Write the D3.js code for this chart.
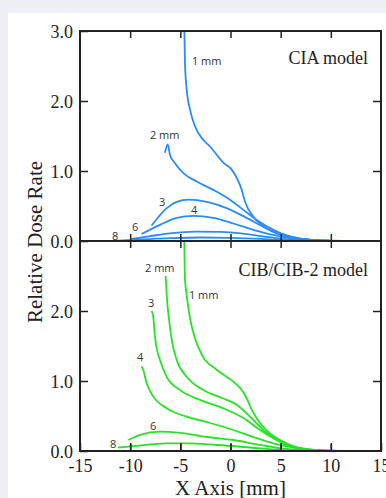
<!DOCTYPE html>
<html>
<head>
<meta charset="utf-8">
<script src="https://cdn.jsdelivr.net/npm/d3@7"></script>
<style>
  body { margin: 0; background: #eff0f6; }
  svg { display: block; }
</style>
</head>
<body>
<svg width="386" height="498"></svg>
<script>
const xTicks = [-15, -10, -5, 0, 5, 10, 15];
const yTicks = [0, 1, 2, 3];

const cia1 = [[-4.6,3.02],[-4.54,2.55],[-4.37,2.17],[-4.04,1.88],[-3.54,1.64],[-2.74,1.45],[-2.04,1.35],[-0.72,1.12],[0.12,1.02],[0.7,0.88],[1.12,0.73],[1.45,0.56],[2.27,0.35],[3.6,0.18],[5.1,0.086],[6.5,0.04],[8,0.014],[10,0.003],[11.5,0]];
const cia2 = [[-6.53,1.26],[-6.26,1.38],[-6.03,1.23],[-5.53,1.11],[-4.7,0.97],[-3.37,0.85],[-1.71,0.73],[-0.05,0.59],[1.28,0.445],[2.61,0.30],[4.27,0.16],[5.6,0.08],[7,0.035],[8.5,0.012],[10,0.003],[11.5,0]];
const cia3 = [[-7.86,0.22],[-6.36,0.47],[-5.36,0.56],[-4.2,0.59],[-2.37,0.56],[-0.38,0.47],[1.6,0.33],[3.6,0.18],[5.1,0.09],[6.5,0.04],[8,0.014],[10,0.003],[11.5,0]];
const cia4 = [[-8.86,0.10],[-7.03,0.23],[-5.36,0.33],[-3.7,0.36],[-1.71,0.33],[0.28,0.25],[2.27,0.16],[4.27,0.086],[5.6,0.05],[7,0.025],[8.5,0.01],[10,0.003],[11.5,0]];
const cia6 = [[-10.0,0.025],[-8,0.07],[-6,0.11],[-3.5,0.135],[-1,0.13],[1,0.11],[3,0.07],[5,0.035],[7,0.012],[9,0.004],[11.5,0]];
const cia8 = [[-11.2,0.005],[-9,0.02],[-6,0.04],[-3,0.05],[0,0.045],[3,0.03],[5,0.015],[8,0.005],[11.5,0]];

const cib1 = [[-4.6,3.0],[-4.54,2.47],[-4.37,2.23],[-4.04,1.90],[-3.54,1.61],[-2.8,1.36],[-1.38,1.16],[0.28,0.99],[1.12,0.87],[1.62,0.75],[2.11,0.59],[2.94,0.40],[3.94,0.25],[4.94,0.157],[6.26,0.07],[7.5,0.03],[9,0.01],[11.5,0]];
const cib2 = [[-6.46,2.50],[-6.36,2.23],[-6.1,1.85],[-5.86,1.59],[-5.36,1.30],[-4.37,1.06],[-2.71,0.87],[-0.72,0.75],[0.62,0.66],[1.94,0.49],[3.27,0.30],[4.6,0.157],[5.93,0.07],[7.5,0.025],[9,0.008],[11.5,0]];
const cib3 = [[-7.86,2.0],[-7.7,1.92],[-7.53,1.63],[-7.25,1.40],[-7.03,1.30],[-6.36,1.06],[-5.03,0.87],[-3.04,0.73],[-0.72,0.61],[1.28,0.47],[2.94,0.30],[4.6,0.157],[5.93,0.07],[7.5,0.025],[9,0.008],[11.5,0]];
const cib4 = [[-8.86,1.21],[-8.7,1.16],[-8.36,0.97],[-7.7,0.78],[-6.36,0.61],[-4.37,0.49],[-2.04,0.40],[0.28,0.30],[2.27,0.20],[4.27,0.11],[5.93,0.06],[7.5,0.022],[9,0.007],[11.5,0]];
const cib6 = [[-10.19,0.157],[-9.0,0.23],[-7.03,0.276],[-5.03,0.26],[-2.37,0.20],[0.28,0.157],[2.94,0.086],[4.94,0.04],[7,0.015],[9,0.004],[11.5,0]];
const cib8 = [[-11.2,0.05],[-9.7,0.07],[-6.36,0.11],[-4.37,0.11],[-1.38,0.086],[1.94,0.05],[4.94,0.015],[8,0.004],[11.5,0]];

const ciaLabels = [['1 mm',-3.84,2.51],['2 mm',-8.03,1.46],['3',-7.13,0.494],['4',-3.94,0.387],['6',-9.82,0.15],['8',-11.81,0.014]];
const cibLabels = [['2 mm',-8.52,2.557],['1 mm',-4.14,2.17],['3',-8.23,2.057],['4',-9.32,1.279],['6',-8.03,0.293],['8',-12.01,0.043]];

const serif = '"Liberation Serif", "Times New Roman", serif';
const sans = '"Open Sans", "Noto Sans", sans-serif';

const svg = d3.select('svg');

svg.append('rect')
  .attr('x', 8).attr('y', 13)
  .attr('width', 378).attr('height', 485)
  .attr('fill', '#fff');

const x = d3.scaleLinear().domain([-15, 15]).range([80, 381]);
const yTop = d3.scaleLinear().domain([0, 3]).range([241, 31]);
const yBot = d3.scaleLinear().domain([0, 3]).range([451, 241]);

var drawPanel = (y, series, color, labels, name, nameY, id) => {
  svg.append('clipPath').attr('id', id)
    .append('rect')
    .attr('x', x(-15)).attr('y', y(3) - 1)
    .attr('width', x(15) - x(-15)).attr('height', y(0) - y(3) + 2);

  const line = d3.line()
    .x(d => x(d[0]))
    .y(d => y(d[1]))
    .curve(d3.curveMonotoneX);

  svg.append('g').attr('clip-path', `url(#${id})`)
    .selectAll('path')
    .data(series)
    .enter()
    .append('path')
    .attr('d', line)
    .attr('fill', 'none')
    .attr('stroke', color)
    .attr('stroke-width', 1.8);

  svg.append('g').selectAll('text')
    .data(labels)
    .enter()
    .append('text')
    .attr('x', d => x(d[1]))
    .attr('y', d => y(d[2]))
    .attr('font-family', sans)
    .attr('font-size', 11)
    .attr('fill', '#333')
    .text(d => d[0]);

  svg.append('text')
    .attr('x', 368).attr('y', nameY)
    .attr('text-anchor', 'end')
    .attr('font-family', serif)
    .attr('font-size', 18)
    .attr('fill', '#222')
    .text(name);

  const inner = [1, 2];
  const innerX = [-10, -5, 0, 5, 10];

  svg.append('g').attr('transform', `translate(${x(15)},0)`)
    .call(d3.axisRight(y).tickValues(inner).tickSize(-8).tickFormat(''));
  svg.append('g').attr('transform', `translate(0,${y(3)})`)
    .call(d3.axisTop(x).tickValues(innerX).tickSize(-7).tickFormat(''));
  svg.append('g').attr('transform', `translate(0,${y(0)})`)
    .call(d3.axisBottom(x).tickValues(innerX).tickSize(-7).tickFormat(''));

  const left = svg.append('g').attr('transform', `translate(${x(-15)},0)`)
    .call(d3.axisLeft(y)
      .tickValues(y === yTop ? yTicks : yTicks.slice(0, 3))
      .tickSize(-8).tickPadding(7)
      .tickFormat(d3.format('.1f')));
  left.selectAll('text')
    .attr('font-family', serif)
    .attr('font-size', 18)
    .attr('fill', '#222')
    .attr('dy', '0.34em');

  svg.append('rect')
    .attr('x', x(-15)).attr('y', y(3))
    .attr('width', x(15) - x(-15)).attr('height', y(0) - y(3))
    .attr('fill', 'none')
    .attr('stroke', '#222')
    .attr('stroke-width', 2);
}

drawPanel(yTop, [cia1, cia2, cia3, cia4, cia6, cia8], '#2b8cf5', ciaLabels, 'CIA model', 64, 'clipTop');
drawPanel(yBot, [cib1, cib2, cib3, cib4, cib6, cib8], '#27e227', cibLabels, 'CIB/CIB-2 model', 276, 'clipBot');

const bottom = svg.append('g').attr('transform', `translate(0,${yBot(0)})`)
  .call(d3.axisBottom(x).tickValues(xTicks).tickSize(-8).tickPadding(8).tickFormat(d3.format('d')));
bottom.selectAll('text')
  .attr('font-family', serif)
  .attr('font-size', 18)
  .attr('fill', '#222')
  .text(d => d < 0 ? '-' + Math.abs(d) : d);

svg.selectAll('.domain').remove();
svg.selectAll('.tick line').attr('stroke', '#222').attr('stroke-width', 1.5);

svg.append('text')
  .attr('x', x(0)).attr('y', 495)
  .attr('text-anchor', 'middle')
  .attr('font-family', serif)
  .attr('font-size', 21)
  .attr('fill', '#222')
  .text('X Axis [mm]');

svg.append('text')
  .attr('transform', `translate(42,242) rotate(-90)`)
  .attr('text-anchor', 'middle')
  .attr('font-family', serif)
  .attr('font-size', 21)
  .attr('fill', '#222')
  .text('Relative Dose Rate');
</script>
</body>
</html>
